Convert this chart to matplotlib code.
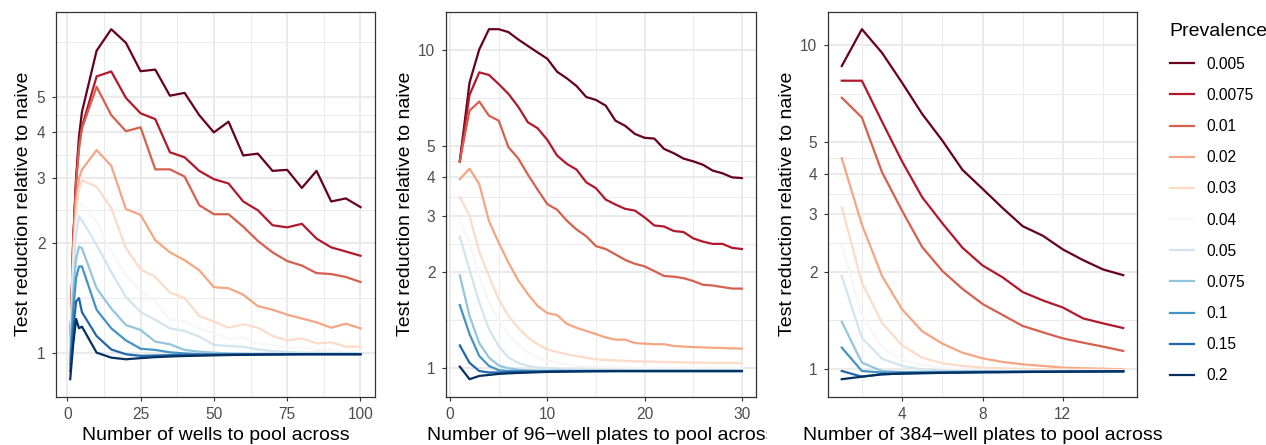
import matplotlib
matplotlib.use("Agg")
import matplotlib.pyplot as plt
from matplotlib.lines import Line2D
from matplotlib.patches import Rectangle
import numpy as np

plt.rcParams['font.family'] = ['Liberation Sans', 'DejaVu Sans']

prevalence = ["0.005", "0.0075", "0.01", "0.02", "0.03", "0.04", "0.05", "0.075", "0.1", "0.15", "0.2"]
colors = ["#67001F", "#B2182B", "#D6604D", "#F4A582", "#FDDBC7", "#F7F7F7",
          "#D1E5F0", "#92C5DE", "#4393C3", "#2166AC", "#053061"]

# Panel 1: wells
p1_x = [1, 2, 3, 4, 5, 10, 15, 20, 25, 30, 35, 40, 45, 50, 55, 60, 65, 70, 75, 80, 85, 90, 95, 100]
p1_0005 = [1.00, 2.00, 3.00, 3.90, 4.55, 6.69, 7.66, 7.03, 5.88, 5.94, 5.04, 5.13, 4.46, 4.00, 4.28, 3.46, 3.50, 3.14, 3.16, 2.82, 3.14, 2.59, 2.64, 2.50]
p1_00075 = [1.00, 2.00, 2.95, 3.70, 4.14, 5.69, 5.87, 4.97, 4.51, 4.35, 3.53, 3.42, 3.14, 2.98, 2.90, 2.59, 2.45, 2.23, 2.20, 2.25, 2.05, 1.94, 1.89, 1.84]
p1_001 = [1.00, 2.00, 2.90, 3.60, 4.10, 5.33, 4.46, 4.03, 4.13, 3.17, 3.17, 3.03, 2.53, 2.39, 2.39, 2.21, 2.02, 1.88, 1.78, 1.73, 1.65, 1.64, 1.61, 1.56]
p1_002 = [1.00, 1.90, 2.60, 3.00, 3.16, 3.58, 3.24, 2.47, 2.38, 2.03, 1.88, 1.79, 1.68, 1.51, 1.50, 1.44, 1.34, 1.31, 1.27, 1.24, 1.21, 1.17, 1.20, 1.165]
p1_003 = [1.00, 1.80, 2.40, 2.80, 2.96, 2.84, 2.48, 1.93, 1.69, 1.61, 1.46, 1.41, 1.26, 1.215, 1.17, 1.195, 1.17, 1.11, 1.08, 1.094, 1.06, 1.067, 1.038, 1.038]
p1_004 = [1.00, 1.70, 2.20, 2.50, 2.55, 2.28, 1.89, 1.63, 1.48, 1.38, 1.23, 1.215, 1.165, 1.13, 1.09, 1.10, 1.06, 1.05, 1.03, 1.034, 1.017, 1.02, 1.006, 1.006]
p1_005 = [0.98, 1.60, 2.10, 2.36, 2.30, 1.97, 1.66, 1.42, 1.29, 1.23, 1.165, 1.146, 1.106, 1.05, 1.043, 1.038, 1.02, 1.01, 1.005, 1.00, 1.00, 0.998, 0.997, 0.996]
p1_0075 = [0.96, 1.45, 1.80, 1.95, 1.93, 1.50, 1.32, 1.19, 1.153, 1.072, 1.054, 1.017, 1.006, 1.00, 0.995, 0.993, 0.992, 0.992, 0.992, 0.992, 0.992, 0.992, 0.992, 0.992]
p1_01 = [0.93, 1.30, 1.60, 1.72, 1.72, 1.31, 1.165, 1.08, 1.025, 1.017, 1.002, 0.995, 0.99, 0.99, 0.99, 0.99, 0.99, 0.99, 0.99, 0.99, 0.99, 0.99, 0.99, 0.99]
p1_015 = [0.89, 1.15, 1.38, 1.41, 1.29, 1.11, 1.02, 0.99, 0.98, 0.982, 0.984, 0.985, 0.986, 0.987, 0.988, 0.989, 0.99, 0.99, 0.99, 0.99, 0.99, 0.99, 0.99, 0.99]
p1_02 = [0.846, 1.05, 1.236, 1.166, 1.178, 1.00, 0.969, 0.959, 0.966, 0.972, 0.976, 0.979, 0.981, 0.983, 0.985, 0.986, 0.987, 0.988, 0.989, 0.99, 0.99, 0.99, 0.99, 0.99]

# Panel 2: 96-well plates
p2_x = list(range(1, 31))
p2_0005 = [4.47, 7.90, 10.05, 11.63, 11.63, 11.39, 10.8, 10.3, 9.83, 9.39, 8.55, 8.15, 7.71, 7.12, 6.97, 6.69, 6.00, 5.78, 5.45, 5.30, 5.27, 4.89, 4.74, 4.56, 4.47, 4.36, 4.18, 4.10, 3.98, 3.96]
p2_00075 = [4.47, 7.23, 8.51, 8.35, 7.82, 7.28, 6.64, 5.93, 5.68, 5.22, 4.66, 4.39, 4.21, 3.84, 3.68, 3.39, 3.27, 3.17, 3.13, 2.98, 2.81, 2.79, 2.70, 2.68, 2.56, 2.50, 2.46, 2.46, 2.39, 2.37]
p2_001 = [4.47, 6.45, 6.89, 6.22, 6.00, 4.95, 4.57, 4.06, 3.64, 3.28, 3.15, 2.91, 2.73, 2.60, 2.42, 2.37, 2.28, 2.19, 2.13, 2.09, 2.02, 1.95, 1.94, 1.92, 1.88, 1.83, 1.82, 1.80, 1.78, 1.78]
p2_002 = [3.93, 4.24, 3.79, 2.90, 2.48, 2.15, 1.89, 1.71, 1.57, 1.49, 1.47, 1.38, 1.34, 1.31, 1.28, 1.25, 1.23, 1.23, 1.20, 1.195, 1.19, 1.19, 1.175, 1.17, 1.166, 1.163, 1.16, 1.158, 1.155, 1.153]
p2_003 = [3.45, 3.02, 2.32, 1.95, 1.645, 1.46, 1.34, 1.25, 1.19, 1.147, 1.125, 1.106, 1.093, 1.08, 1.067, 1.062, 1.058, 1.055, 1.052, 1.05, 1.048, 1.046, 1.045, 1.043, 1.042, 1.041, 1.04, 1.04, 1.039, 1.039]
p2_004 = [2.95, 2.48, 1.95, 1.61, 1.41, 1.28, 1.19, 1.12, 1.08, 1.054, 1.04, 1.03, 1.02, 1.015, 1.012, 1.01, 1.008, 1.006, 1.005, 1.004, 1.003, 1.002, 1.001, 1.00, 1.00, 1.00, 1.00, 1.00, 1.00, 1.00]
p2_005 = [2.59, 2.04, 1.61, 1.325, 1.175, 1.08, 1.04, 1.017, 1.005, 1.00, 0.995, 0.992, 0.99, 0.989, 0.988, 0.987, 0.986, 0.986, 0.985, 0.985, 0.985, 0.985, 0.985, 0.985, 0.985, 0.985, 0.985, 0.985, 0.985, 0.985]
p2_0075 = [1.96, 1.46, 1.20, 1.08, 1.02, 1.00, 0.99, 0.985, 0.983, 0.982, 0.982, 0.982, 0.982, 0.982, 0.982, 0.982, 0.982, 0.982, 0.982, 0.982, 0.982, 0.982, 0.982, 0.982, 0.982, 0.982, 0.982, 0.982, 0.982, 0.982]
p2_01 = [1.58, 1.28, 1.093, 1.017, 0.986, 0.98, 0.98, 0.98, 0.98, 0.98, 0.98, 0.98, 0.98, 0.98, 0.98, 0.98, 0.98, 0.98, 0.98, 0.98, 0.98, 0.98, 0.98, 0.98, 0.98, 0.98, 0.98, 0.98, 0.98, 0.98]
p2_015 = [1.18, 1.04, 0.98, 0.97, 0.97, 0.972, 0.974, 0.975, 0.976, 0.977, 0.978, 0.979, 0.979, 0.98, 0.98, 0.98, 0.98, 0.98, 0.98, 0.98, 0.98, 0.98, 0.98, 0.98, 0.98, 0.98, 0.98, 0.98, 0.98, 0.98]
p2_02 = [1.012, 0.924, 0.946, 0.953, 0.96, 0.964, 0.967, 0.969, 0.972, 0.974, 0.975, 0.976, 0.977, 0.978, 0.979, 0.979, 0.98, 0.98, 0.98, 0.98, 0.98, 0.98, 0.98, 0.98, 0.98, 0.98, 0.98, 0.98, 0.98, 0.98]

# Panel 3: 384-well plates
p3_x = list(range(1, 16))
p3_0005 = [8.60, 11.17, 9.45, 7.64, 6.12, 5.07, 4.12, 3.60, 3.14, 2.76, 2.58, 2.34, 2.17, 2.03, 1.95]
p3_00075 = [7.75, 7.75, 5.80, 4.37, 3.39, 2.82, 2.37, 2.09, 1.92, 1.73, 1.63, 1.55, 1.435, 1.385, 1.34]
p3_001 = [6.87, 5.97, 4.05, 3.08, 2.38, 2.01, 1.77, 1.59, 1.47, 1.36, 1.30, 1.245, 1.208, 1.174, 1.139]
p3_002 = [4.47, 2.79, 1.94, 1.53, 1.31, 1.20, 1.125, 1.081, 1.053, 1.036, 1.024, 1.012, 1.007, 1.004, 1.00]
p3_003 = [3.16, 1.85, 1.39, 1.185, 1.086, 1.043, 1.024, 1.012, 1.006, 1.003, 1.00, 1.00, 0.998, 0.997, 0.996]
p3_004 = [2.42, 1.46, 1.166, 1.073, 1.03, 1.01, 1.00, 0.995, 0.993, 0.992, 0.991, 0.99, 0.99, 0.99, 0.99]
p3_005 = [1.94, 1.25, 1.078, 1.024, 1.00, 0.99, 0.988, 0.987, 0.986, 0.986, 0.986, 0.986, 0.986, 0.986, 0.986]
p3_0075 = [1.40, 1.048, 0.988, 0.98, 0.982, 0.983, 0.984, 0.985, 0.985, 0.985, 0.985, 0.985, 0.985, 0.985, 0.985]
p3_01 = [1.166, 0.988, 0.977, 0.978, 0.979, 0.98, 0.981, 0.982, 0.983, 0.984, 0.985, 0.985, 0.985, 0.985, 0.985]
p3_015 = [0.988, 0.949, 0.965, 0.97, 0.973, 0.975, 0.977, 0.979, 0.98, 0.981, 0.982, 0.983, 0.984, 0.985, 0.986]
p3_02 = [0.932, 0.949, 0.965, 0.97, 0.973, 0.975, 0.977, 0.979, 0.98, 0.981, 0.982, 0.983, 0.984, 0.985, 0.986]

p1_series = [p1_0005, p1_00075, p1_001, p1_002, p1_003, p1_004, p1_005, p1_0075, p1_01, p1_015, p1_02]
p2_series = [p2_0005, p2_00075, p2_001, p2_002, p2_003, p2_004, p2_005, p2_0075, p2_01, p2_015, p2_02]
p3_series = [p3_0005, p3_00075, p3_001, p3_002, p3_003, p3_004, p3_005, p3_0075, p3_01, p3_015, p3_02]

y_breaks = [1, 2, 3, 4, 5, 10]
y_minor = [np.sqrt(1 * 2), np.sqrt(2 * 3), np.sqrt(3 * 4), np.sqrt(4 * 5), np.sqrt(5 * 10)]

xlabels = ["Number of wells to pool across",
           "Number of 96\u2212well plates to pool across",
           "Number of 384\u2212well plates to pool across"]
ylabel = "Test reduction relative to naive"

W, H = 1266, 445
fig = plt.figure(figsize=(W / 100, H / 100), dpi=100)

def fbox(l, r, t, b):
    return [l / W, (H - b) / H, (r - l) / W, (b - t) / H]

axes = [fig.add_axes(fbox(55.7, 375.0, 11.7, 396.7)),
        fig.add_axes(fbox(445.7, 756.0, 11.7, 396.7)),
        fig.add_axes(fbox(827.7, 1137.3, 11.7, 396.7))]

xt_major = [[0, 25, 50, 75, 100], [0, 10, 20, 30], [4, 8, 12]]
xt_minor = [[12.5, 37.5, 62.5, 87.5], [5, 15, 25], [2, 6, 10, 14]]
xs = [p1_x, p2_x, p3_x]
series = [p1_series, p2_series, p3_series]

grid_col = "#EBEBEB"
for i, ax in enumerate(axes):
    for ys, c in zip(series[i], colors):
        ax.plot(xs[i], ys, color=c, lw=1.6, solid_joinstyle='round', zorder=3)
    ax.set_yscale('log')
    ax.set_xticks(xt_major[i])
    ax.set_xticks(xt_minor[i], minor=True)
    ax.set_yticks(y_breaks)
    ax.set_yticklabels([str(v) for v in y_breaks])
    ax.set_yticks(y_minor, minor=True)
    ax.yaxis.set_minor_formatter(matplotlib.ticker.NullFormatter())
    # ggplot-like 5% expansion (log space for y)
    allv = np.concatenate([np.asarray(s, float) for s in series[i]])
    lo, hi = np.log10(allv.min()), np.log10(allv.max())
    d = (hi - lo) * 0.05
    ax.set_ylim(10 ** (lo - d), 10 ** (hi + d))
    xmin, xmax = min(xs[i]), max(xs[i])
    dx = (xmax - xmin) * 0.05
    ax.set_xlim(xmin - dx, xmax + dx)
    ax.grid(True, which='major', color=grid_col, lw=1.4, zorder=0)
    ax.grid(True, which='minor', color=grid_col, lw=0.7, zorder=0)
    ax.set_axisbelow(True)
    ax.tick_params(which='major', length=3.2, width=0.8, color='#333333',
                   labelsize=11.2, labelcolor='#4D4D4D')
    ax.tick_params(axis='x', which='major', pad=4.5)
    ax.tick_params(axis='y', which='major', pad=4.2)
    ax.tick_params(which='minor', length=0)
    for s in ax.spines.values():
        s.set_color('#333333')
        s.set_linewidth(0.9)
    ax.set_xlabel(xlabels[i], fontsize=14, labelpad=3.6)
    ax.set_ylabel(ylabel, fontsize=14, labelpad=3.1)

# the third panel covers the overflow of the second panel's x title
xl = axes[1].xaxis.label
clip = Rectangle((0, 0), 767 / W, 1, transform=fig.transFigure, facecolor='none', edgecolor='none')
fig.add_artist(clip)
xl.set_clip_path(clip)

handles = [Line2D([0], [0], color=c, lw=1.6) for c in colors]
leg = fig.legend(handles, prevalence, loc='upper left', bbox_to_anchor=(1169.5 / W, 1 - 23.5 / H),
                 bbox_transform=fig.transFigure, frameon=False, title='Prevalence',
                 fontsize=11.2, title_fontsize=14, handlelength=1.55, handletextpad=0.85,
                 labelspacing=1.04, borderaxespad=0, borderpad=0, alignment='left')

fig.savefig("out.png", dpi=100, facecolor='white')
